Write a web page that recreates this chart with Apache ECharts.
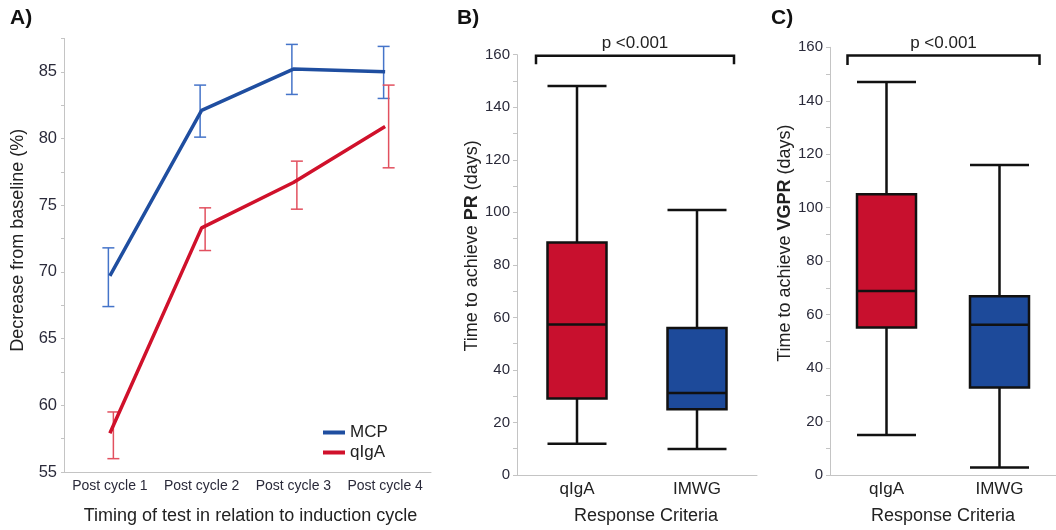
<!DOCTYPE html>
<html>
<head>
<meta charset="utf-8">
<script src="https://cdn.jsdelivr.net/npm/echarts@6/dist/echarts.min.js"></script>
<style>
  html, body { margin: 0; padding: 0; background: #fff; }
  #chart { width: 1056px; height: 530px; }
</style>
</head>
<body>
<div id="chart"></div>
<script>
// 数据
const cycles = ['Post cycle 1', 'Post cycle 2', 'Post cycle 3', 'Post cycle 4']
const mcpMean = [69.7, 82.1, 85.2, 85.0]
const mcpLow = [67.4, 80.1, 83.3, 83.0]
const mcpHigh = [71.8, 84.0, 87.05, 86.9]
const qigaMean = [57.9, 73.3, 76.7, 80.9]
const qigaLow = [56.0, 71.6, 74.7, 77.8]
const qigaHigh = [59.5, 74.8, 78.3, 84.0]

const criteria = ['qIgA', 'IMWG']
// [min, Q1, median, Q3, max]
const prBox = [[11.9, 29.1, 57.3, 88.5, 148.1], [9.9, 25.0, 31.2, 56.0, 100.9]]
const vgprBox = [[15.0, 55.2, 68.8, 105.0, 147.0], [2.8, 32.7, 56.2, 66.9, 116.0]]
const pLabel = 'p <0.001'
// bracket: [from category, to category, top value, end value]
const prBracket = [[0, 1, 159.6, 156.4]]
const vgprBracket = [[0, 1, 156.9, 153.4]]

const FONT = '"Liberation Sans", Arial, sans-serif'
const RED = '#c8102e'
const BLUE = '#1d4a9a'
const LINE_BLUE = '#1f4ea0'
const LINE_RED = '#d0112b'
const ERR_BLUE = '#4574c9'
const ERR_RED = '#e2505f'
const AXIS_GRAY = '#c4c4c4'

const chart = echarts.init(document.getElementById('chart'))

// 误差线
function errorBars(data, color, dx) {
  return {
    type: 'custom',
    xAxisIndex: 0,
    yAxisIndex: 0,
    z: 3,
    data: data,
    renderItem: (params, api) => {
      const lo = api.coord([api.value(0), api.value(1)])
      const hi = api.coord([api.value(0), api.value(2)])
      const x = lo[0] + dx
      const w = 6
      const style = { stroke: color, lineWidth: 1.5 }
      return {
        type: 'group',
        children: [
          { type: 'line', shape: { x1: x, y1: lo[1], x2: x, y2: hi[1] }, style },
          { type: 'line', shape: { x1: x - w, y1: lo[1], x2: x + w, y2: lo[1] }, style },
          { type: 'line', shape: { x1: x - w, y1: hi[1], x2: x + w, y2: hi[1] }, style }
        ]
      }
    }
  }
}

// 显著性括号
function bracket(data, axisIdx, dl, dr) {
  return {
    type: 'custom',
    xAxisIndex: axisIdx,
    yAxisIndex: axisIdx,
    data: data,
    z: 5,
    renderItem: (params, api) => {
      const a = api.coord([api.value(0), api.value(2)])
      const b = api.coord([api.value(1), api.value(2)])
      const e = api.coord([api.value(0), api.value(3)])
      const x1 = a[0] + dl
      const x2 = b[0] + dr
      return {
        type: 'group',
        children: [
          {
            type: 'polyline',
            shape: { points: [[x1, e[1]], [x1, a[1]], [x2, a[1]], [x2, e[1]]] },
            style: { stroke: '#111', lineWidth: 2.5, fill: null }
          },
          {
            type: 'text',
            style: {
              text: pLabel, x: (x1 + x2) / 2, y: a[1] - 4,
              align: 'center', verticalAlign: 'bottom',
              font: '17px ' + FONT, fill: '#222'
            }
          }
        ]
      }
    }
  }
}

function boxSeries(data, axisIdx) {
  return {
    type: 'boxplot',
    xAxisIndex: axisIdx,
    yAxisIndex: axisIdx,
    boxWidth: [59, 59],
    data: data.map((v, i) => ({
      value: v,
      itemStyle: { color: i === 0 ? RED : BLUE, borderColor: '#111', borderWidth: 2.5 }
    })),
    emphasis: { disabled: true }
  }
}

const boxYAxis = (idx, gap, pad, rich) => ({
  type: 'value',
  gridIndex: idx,
  min: 0,
  max: 160,
  interval: 10,
  splitLine: { show: false },
  axisLine: { show: true, lineStyle: { color: AXIS_GRAY, width: 1 } },
  axisTick: { show: true, length: 4, lineStyle: { color: AXIS_GRAY } },
  axisLabel: {
    margin: 7, fontSize: 15, fontFamily: FONT, color: '#2a2a3a',
    formatter: (v) => (v % 20 === 0 ? String(v) : '')
  },
  name: rich,
  nameLocation: 'middle',
  nameGap: gap,
  nameTextStyle: {
    padding: pad,
    rich: {
      n: { fontSize: 18, fontFamily: FONT, color: '#222' },
      b: { fontSize: 18, fontFamily: FONT, color: '#222', fontWeight: 'bold' }
    }
  }
})

const boxXAxis = (idx, pad) => ({
  type: 'category',
  gridIndex: idx,
  data: criteria,
  axisLine: { lineStyle: { color: AXIS_GRAY, width: 1 } },
  axisTick: { show: false },
  axisLabel: { margin: 6, fontSize: 17, fontFamily: FONT, color: '#222' },
  name: 'Response Criteria',
  nameLocation: 'middle',
  nameGap: 32,
  nameTextStyle: { fontSize: 18, fontFamily: FONT, color: '#222', padding: pad }
})

const option = {
  animation: false,
  backgroundColor: '#fff',
  textStyle: { fontFamily: FONT },
  grid: [
    { left: 64, top: 38.4, width: 367, height: 435 },
    { left: 517, top: 54.7, width: 240, height: 421.3 },
    { left: 830, top: 47.3, width: 240, height: 429.4 }
  ],
  legend: {
    data: ['MCP', 'qIgA'],
    orient: 'vertical',
    left: 323,
    top: 424,
    padding: 0,
    icon: 'rect',
    itemWidth: 22,
    itemHeight: 4,
    itemGap: 3,
    selectedMode: false,
    textStyle: { fontSize: 17, lineHeight: 17, fontFamily: FONT, color: '#222' }
  },
  graphic: [
    { type: 'text', left: 10, top: 8, style: { text: 'A)', font: 'bold 21px ' + FONT, fill: '#111' } },
    { type: 'text', left: 457, top: 8, style: { text: 'B)', font: 'bold 21px ' + FONT, fill: '#111' } },
    { type: 'text', left: 771, top: 8, style: { text: 'C)', font: 'bold 21px ' + FONT, fill: '#111' } }
  ],
  xAxis: [
    {
      type: 'category',
      gridIndex: 0,
      data: cycles,
      axisLine: { lineStyle: { color: AXIS_GRAY, width: 1 } },
      axisTick: { show: false },
      axisLabel: { interval: 0, margin: 7, fontSize: 14, fontFamily: FONT, color: '#2a2a3a' },
      name: 'Timing of test in relation to induction cycle',
      nameLocation: 'middle',
      nameGap: 35,
      nameTextStyle: { fontSize: 18, fontFamily: FONT, color: '#222', padding: [0, 0, 0, 6] }
    },
    boxXAxis(1, [0, 0, 0, 18]),
    boxXAxis(2, 0)
  ],
  yAxis: [
    {
      type: 'value',
      gridIndex: 0,
      min: 55,
      max: 87.5,
      interval: 2.5,
      splitLine: { show: false },
      axisLine: { show: true, lineStyle: { color: AXIS_GRAY, width: 1 } },
      axisTick: { show: true, length: 3, lineStyle: { color: AXIS_GRAY } },
      axisLabel: {
        margin: 7, fontSize: 16.5, fontFamily: FONT, color: '#2a2a3a',
        formatter: (v) => (v % 5 === 0 ? String(v) : '')
      },
      name: 'Decrease from baseline (%)',
      nameLocation: 'middle',
      nameGap: 37,
      nameTextStyle: { fontSize: 18, fontFamily: FONT, color: '#222', padding: [0, 0, 0, 30] }
    },
    boxYAxis(1, 36, [0, 0, 0, 38], '{n|Time to achieve }{b|PR}{n| (days)}'),
    boxYAxis(2, 35, [0, 0, 0, 36], '{n|Time to achieve }{b|VGPR}{n| (days)}')
  ],
  series: [
    errorBars(cycles.map((c, i) => [i, mcpLow[i], mcpHigh[i]]), ERR_BLUE, -1.5),
    errorBars(cycles.map((c, i) => [i, qigaLow[i], qigaHigh[i]]), ERR_RED, 3.5),
    {
      name: 'MCP',
      type: 'line',
      xAxisIndex: 0,
      yAxisIndex: 0,
      data: mcpMean,
      symbol: 'none',
      z: 4,
      itemStyle: { color: LINE_BLUE },
      lineStyle: { color: LINE_BLUE, width: 3.5 }
    },
    {
      name: 'qIgA',
      type: 'line',
      xAxisIndex: 0,
      yAxisIndex: 0,
      data: qigaMean,
      symbol: 'none',
      z: 4,
      itemStyle: { color: LINE_RED },
      lineStyle: { color: LINE_RED, width: 3.5 }
    },
    boxSeries(prBox, 1),
    boxSeries(vgprBox, 2),
    bracket(prBracket, 1, -41, 37),
    bracket(vgprBracket, 2, -39, 40)
  ]
}

chart.setOption(option)
window.addEventListener('resize', () => chart.resize())
</script>
</body>
</html>
